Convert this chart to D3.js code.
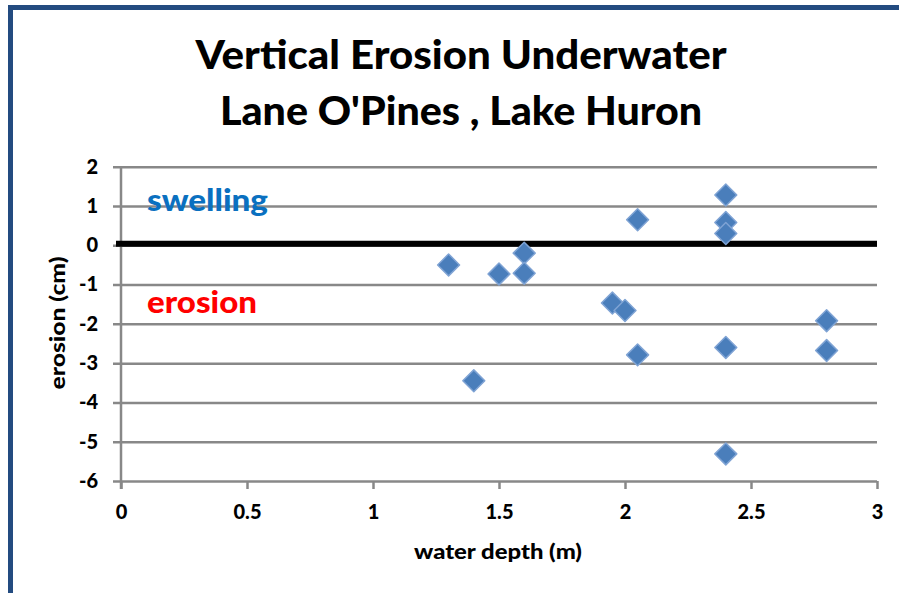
<!DOCTYPE html>
<html>
<head>
<meta charset="utf-8">
<script src="https://cdn.jsdelivr.net/npm/d3@7"></script>
<style>
html,body{margin:0;padding:0;background:#fff;}
svg{display:block;}
text{font-family:Lato,"Open Sans",sans-serif;font-weight:700;}
</style>
</head>
<body>
<svg id="chart" width="899" height="593"></svg>
<script>
const titleLines = ["Vertical Erosion Underwater", "Lane O'Pines , Lake Huron"];
const xLabel = "water depth (m)";
const yLabel = "erosion (cm)";
const depth   = [1.3, 1.4, 1.5, 1.6, 1.6, 1.95, 2.0, 2.05, 2.05, 2.4, 2.4, 2.4, 2.4, 2.4, 2.8, 2.8];
const erosion = [-0.5, -3.45, -0.73, -0.2, -0.71, -1.47, -1.66, 0.65, -2.79, 1.28, 0.58, 0.3, -2.6, -5.31, -1.92, -2.68];
const xTicks = [0, 0.5, 1, 1.5, 2, 2.5, 3];
const yTicks = [2, 1, 0, -1, -2, -3, -4, -5, -6];
const zones = [{label: "swelling", value: 1.15, color: "#0a70c0"}, {label: "erosion", value: -1.45, color: "#ff0000"}];

(function () {
const svg = d3.select("#chart");
// frame
svg.append("rect").attr("x", 10.5).attr("y", 7.5).attr("width", 1000).attr("height", 1000)
  .attr("fill", "none").attr("stroke", "#234b80").attr("stroke-width", 5);

const pL = 121, pR = 877, pT = 166.7, pB = 481;
const x = d3.scaleLinear().domain([0, 3]).range([pL, pR]);
const y = d3.scaleLinear().domain([-6, 2]).range([pB, pT]);

// title
const tW = [531, 482], tY = [69, 125];
titleLines.forEach((t, i) => {
  svg.append("text").attr("text-anchor", "middle").attr("fill", "#000")
    .attr("x", 461).attr("y", tY[i])
    .attr("textLength", tW[i]).attr("lengthAdjust", "spacingAndGlyphs")
    .style("font-size", "40px").style("font-weight", 900).text(t);
});

// y axis with gridlines
const yAxis = svg.append("g").attr("transform", `translate(${pL},0)`)
  .call(d3.axisLeft(y).tickValues(yTicks).tickSize(0).tickPadding(23).tickFormat(d3.format("d")));
yAxis.select(".domain").remove();
yAxis.selectAll(".tick line").attr("x1", -8).attr("x2", pR - pL)
  .attr("stroke", "#888").attr("stroke-width", 2.5);
yAxis.selectAll(".tick text").style("font-size", "20px").attr("fill", "#000")
  .style("font-family", "Lato, sans-serif").style("font-weight", 900)
  .text(d => d < 0 ? "-" + Math.abs(d) : d);

// x axis
const xAxis = svg.append("g").attr("transform", `translate(0,${pB})`)
  .call(d3.axisBottom(x).tickValues(xTicks).tickSize(8).tickPadding(16).tickFormat(d => d));
xAxis.select(".domain").remove();
xAxis.selectAll(".tick line").attr("stroke", "#888").attr("stroke-width", 2.5);
xAxis.selectAll(".tick text").style("font-size", "20px").attr("fill", "#000")
  .style("font-family", "Lato, sans-serif").style("font-weight", 900);

// vertical axis line
svg.append("line").attr("x1", pL).attr("x2", pL).attr("y1", pT).attr("y2", pB + 8)
  .attr("stroke", "#888").attr("stroke-width", 2.5);

// zero line
svg.append("line").attr("x1", pL - 5).attr("x2", pR).attr("y1", y(0) - 1.5).attr("y2", y(0) - 1.5)
  .attr("stroke", "#000").attr("stroke-width", 6);

// zone labels
const zW = {swelling: 121, erosion: 110};
svg.selectAll(".zone").data(zones).join("text").attr("class", "zone")
  .attr("x", 147).attr("y", d => y(d.value)).attr("dy", "0.35em")
  .attr("textLength", d => zW[d.label]).attr("lengthAdjust", "spacingAndGlyphs")
  .attr("fill", d => d.color).style("font-size", "30px").style("font-weight", 900)
  .text(d => d.label);

// axis titles
svg.append("text").attr("x", 498).attr("y", 559).attr("text-anchor", "middle")
  .attr("textLength", 168).attr("lengthAdjust", "spacingAndGlyphs")
  .style("font-size", "21px").style("font-weight", 900).text(xLabel);
svg.append("text").attr("transform", `translate(65,${323}) rotate(-90)`).attr("text-anchor", "middle")
  .attr("textLength", 133).attr("lengthAdjust", "spacingAndGlyphs")
  .style("font-size", "20px").style("font-weight", 900).text(yLabel);

// points
const pts = depth.map((d, i) => ({x: d, y: erosion[i]}));
const sym = d3.symbol().type(d3.symbolSquare).size(240);
svg.selectAll(".pt").data(pts).join("path").attr("class", "pt")
  .attr("transform", d => `translate(${x(d.x)},${y(d.y)}) rotate(45)`)
  .attr("d", sym).attr("fill", "#4a7ebb").attr("stroke", "#7fa3d4").attr("stroke-width", 1.5)
  .attr("stroke-linejoin", "round");
})();
</script>
</body>
</html>
